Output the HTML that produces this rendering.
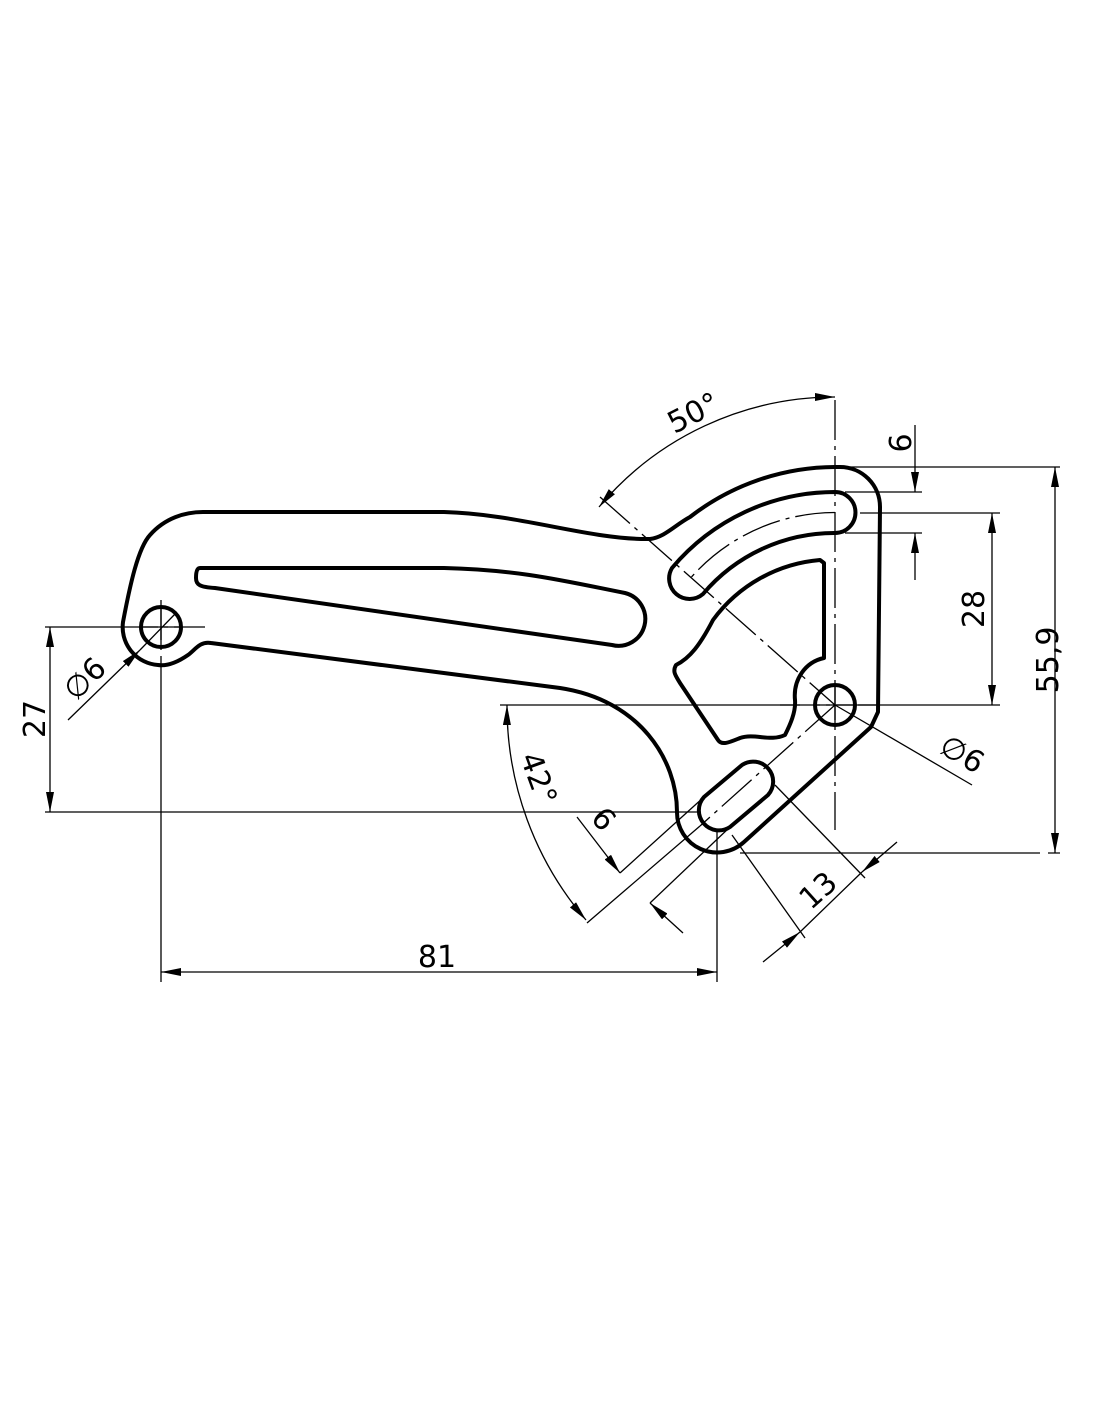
<!DOCTYPE html>
<html><head><meta charset="utf-8"><style>html,body{margin:0;padding:0;background:#fff}svg{display:block}text{font-family:"DejaVu Sans","Liberation Sans",sans-serif;font-size:30px;fill:#000}</style></head>
<body>
<svg width="1100" height="1422" viewBox="0 0 1100 1422" xmlns="http://www.w3.org/2000/svg">
<defs>
<marker id="a" viewBox="0 0 20 8" refX="20" refY="4" markerWidth="20" markerHeight="8" markerUnits="userSpaceOnUse" orient="auto-start-reverse"><path d="M0,0 L20,4 L0,8 Z" fill="#000"/></marker>
</defs>
<g fill="none" stroke="#000" stroke-width="1.3">
<g stroke-dasharray="40,6,4,6">
<line x1="835" y1="400" x2="835" y2="830"/>
<line x1="600" y1="497" x2="835" y2="705"/>
<line x1="835" y1="705" x2="700" y2="826"/>
<path d="M 835,512.5 A 192.5 192.5 0 0 0 688,581"/>
<line x1="118" y1="627" x2="205" y2="627"/>
<line x1="161" y1="600" x2="161" y2="672"/>
<line x1="780" y1="705" x2="880" y2="705"/>
</g>
<line x1="140" y1="627" x2="182" y2="627"/><line x1="161" y1="606" x2="161" y2="648"/>
<line x1="814" y1="705" x2="856" y2="705"/><line x1="835" y1="684" x2="835" y2="726"/>
<line x1="45" y1="627" x2="118" y2="627"/>
<line x1="45" y1="812" x2="700" y2="812"/>
<line x1="50" y1="627" x2="50" y2="812" marker-start="url(#a)" marker-end="url(#a)"/>
<line x1="161" y1="672" x2="161" y2="982"/>
<line x1="717" y1="830" x2="717" y2="982"/>
<line x1="161" y1="972" x2="717" y2="972" marker-start="url(#a)" marker-end="url(#a)"/>
<line x1="68" y1="720" x2="140" y2="650" marker-end="url(#a)"/>
<line x1="140" y1="650" x2="175" y2="614"/>
<line x1="835" y1="705" x2="972" y2="785"/>
<line x1="850" y1="467" x2="1060" y2="467"/>
<line x1="740" y1="853" x2="1060" y2="853" stroke-dasharray="300,8,40,8"/>
<line x1="1055" y1="467" x2="1055" y2="853" marker-start="url(#a)" marker-end="url(#a)"/>
<line x1="860" y1="513" x2="1000" y2="513"/>
<line x1="858" y1="705" x2="1000" y2="705"/>
<line x1="992" y1="513" x2="992" y2="705" marker-start="url(#a)" marker-end="url(#a)"/>
<line x1="845" y1="492" x2="922" y2="492"/>
<line x1="845" y1="533" x2="922" y2="533"/>
<line x1="915" y1="425" x2="915" y2="492" marker-end="url(#a)"/>
<line x1="915" y1="580" x2="915" y2="533" marker-end="url(#a)"/>
<path d="M 835,397 A 308 308 0 0 0 599,507" marker-start="url(#a)" marker-end="url(#a)"/>
<line x1="500" y1="705" x2="800" y2="705"/>
<line x1="700" y1="826" x2="587" y2="923"/>
<path d="M 507,705 A 328 328 0 0 0 586,920" marker-start="url(#a)" marker-end="url(#a)"/>
<line x1="704" y1="797" x2="620" y2="873"/>
<line x1="730" y1="827" x2="650" y2="903"/>
<line x1="577" y1="817" x2="620" y2="873" marker-end="url(#a)"/>
<line x1="683" y1="933" x2="650" y2="903" marker-end="url(#a)"/>
<line x1="732" y1="835" x2="805" y2="938"/>
<line x1="775" y1="785" x2="865" y2="878"/>
<line x1="763" y1="962" x2="800" y2="932" marker-end="url(#a)"/>
<line x1="897" y1="842" x2="862" y2="872" marker-end="url(#a)"/>
<line x1="800" y1="932" x2="862" y2="872"/>
</g>
<g fill="none" stroke="#000" stroke-width="4" stroke-linejoin="round">
<path d="M 203,512 L 444,512 C 520,514 590,540 650,539 C 665,537 675,525 690,517 A 238 238 0 0 1 835,467 L 840,467 A 40 40 0 0 1 880,507 L 878,712 L 871,727 L 744,842 A 40 40 0 0 1 677,812 C 677,760 640,700 560,688 L 211,643 C 200,641 195,650 188,655 C 175,664 165,666 158,665 A 38 38 0 0 1 123,622 C 130,585 138,548 150,535 C 165,518 185,512 203,512 Z"/>
<path d="M 200,568 L 444,568 C 520,570 560,580 625,593 A 26 26 0 0 1 612,645 L 215,588 C 200,587 196,585 196,578 C 196,572 197,568 200,568 Z"/>
<path d="M 835,492 A 213 213 0 0 0 672,568 A 20.5 20.5 0 0 0 703,594 A 172 172 0 0 1 835,533 A 20.5 20.5 0 0 0 835,492 Z"/>
<path d="M 820,560 L 824,563 L 824,658 C 805,662 793,680 795,700 C 796,712 790,725 785,735 C 770,742 755,733 740,738 C 730,742 722,746 718,740 L 680,683 C 676,676 672,672 676,665 C 690,658 700,645 713,620 A 148 148 0 0 1 820,560 Z"/>
<path d="M 730,827 L 768,795 A 20 20 0 0 0 742,765 L 704,797 A 20 20 0 0 0 730,827 Z"/>
<circle cx="161" cy="627" r="20"/>
<circle cx="835" cy="705" r="20"/>
</g>
<text x="0" y="0" text-anchor="middle" transform="translate(45,719) rotate(-90)">27</text>
<text x="437" y="967" text-anchor="middle">81</text>
<text x="0" y="0" text-anchor="middle" transform="translate(92,686) rotate(-45)">∅6</text>
<text x="0" y="0" text-anchor="middle" transform="translate(957,763) rotate(30)">∅6</text>
<text x="0" y="0" text-anchor="middle" transform="translate(1058,660) rotate(-90)">55,9</text>
<text x="0" y="0" text-anchor="middle" transform="translate(984,609) rotate(-90)">28</text>
<text x="0" y="0" text-anchor="middle" transform="translate(911,443) rotate(-90)">6</text>
<text x="0" y="0" text-anchor="middle" transform="translate(698,422) rotate(-27)">50°</text>
<text x="0" y="0" text-anchor="middle" transform="translate(529,782) rotate(70)">42°</text>
<text x="0" y="0" text-anchor="middle" transform="translate(596,826) rotate(48)">6</text>
<text x="0" y="0" text-anchor="middle" transform="translate(825,898) rotate(-42)">13</text>
</svg>
</body></html>
